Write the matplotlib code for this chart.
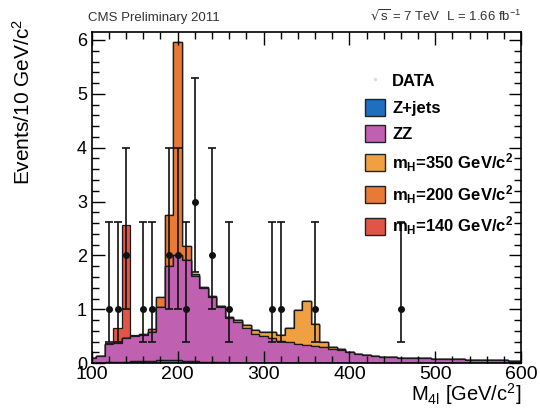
import numpy as np
from matplotlib import pyplot as plt
from matplotlib.patches import Patch
from matplotlib.lines import Line2D
from matplotlib.ticker import MultipleLocator

plt.rcParams['font.family'] = ['Liberation Sans', 'DejaVu Sans']
plt.rcParams['mathtext.default'] = 'regular'

# bin centres 100..600 GeV, 10 GeV wide
bin_centers = np.arange(100, 601, 10)

zjets = [0.00, 0.01, 0.02, 0.03, 0.03, 0.04, 0.04, 0.04, 0.05, 0.05,
         0.05, 0.04, 0.04, 0.03, 0.03, 0.02, 0.01, 0.01, 0.01, 0.01,
         0.00, 0.00, 0.00, 0.00, 0.00, 0.00, 0.00, 0.00, 0.00, 0.00,
         0.00, 0.00, 0.00, 0.00, 0.00, 0.00, 0.00, 0.00, 0.00, 0.00,
         0.00, 0.00, 0.00, 0.00, 0.00, 0.00, 0.00, 0.00, 0.00, 0.00, 0.00]
zz = [0.09, 0.13, 0.33, 0.35, 0.43, 0.46, 0.49, 0.54, 1.00, 1.75,
      1.96, 1.88, 1.58, 1.37, 1.19, 1.02, 0.82, 0.75, 0.65, 0.54,
      0.50, 0.46, 0.42, 0.39, 0.36, 0.34, 0.32, 0.30, 0.27, 0.24,
      0.20, 0.17, 0.15, 0.13, 0.12, 0.11, 0.10, 0.10, 0.09, 0.09,
      0.08, 0.08, 0.07, 0.07, 0.06, 0.06, 0.05, 0.05, 0.05, 0.04, 0.04]
h350 = [0.00, 0.00, 0.00, 0.00, 0.00, 0.00, 0.00, 0.00, 0.00, 0.00,
        0.00, 0.00, 0.00, 0.00, 0.01, 0.02, 0.03, 0.04, 0.05, 0.07,
        0.08, 0.11, 0.10, 0.27, 0.63, 0.82, 0.40, 0.10, 0.03, 0.02,
        0.01, 0.00, 0.00, 0.00, 0.00, 0.00, 0.00, 0.00, 0.00, 0.00,
        0.00, 0.00, 0.00, 0.00, 0.00, 0.00, 0.00, 0.00, 0.00, 0.00, 0.00]
h200 = [0.00, 0.00, 0.00, 0.00, 0.00, 0.00, 0.01, 0.06, 0.17, 0.96,
        3.95, 0.26, 0.04, 0.02, 0.01] + [0.00] * 36
h140 = [0.00, 0.00, 0.02, 0.28, 2.11, 0.02] + [0.00] * 45

data_x = [120, 130, 140, 160, 170, 190, 200, 210, 220, 240, 260, 310, 320, 360, 460]
data_y = [1, 1, 2, 1, 1, 2, 2, 1, 3, 2, 1, 1, 1, 1, 1]
data_lo = [0.6, 0.6, 1.0, 0.6, 0.6, 1.0, 1.0, 0.6, 1.3, 1.0, 0.6, 0.6, 0.6, 0.6, 0.6]
data_hi = [1.63, 1.63, 2.0, 1.63, 1.63, 2.0, 2.0, 1.63, 2.3, 2.0, 1.63, 1.63, 1.63, 1.63, 1.63]

colors = {
    'zjets': '#1f6fc0',
    'zz': '#c060b0',
    'h350': '#f0a040',
    'h200': '#e87a35',
    'h140': '#e05545',
}

edges = np.append(bin_centers - 5, bin_centers[-1] + 5)

fig = plt.figure(figsize=(5.4, 4.09), dpi=100)
ax = fig.add_axes([0.170, 0.112, 0.795, 0.810])

base0 = np.zeros(len(bin_centers))
layer1 = base0 + np.array(zjets)
layer2 = layer1 + np.array(zz)
layer3 = layer2 + np.array(h350)
layer4 = layer3 + np.array(h200)
layer5 = layer4 + np.array(h140)

stack = [
    (layer5, layer4, colors['h140']),
    (layer4, layer3, colors['h200']),
    (layer3, layer2, colors['h350']),
    (layer2, layer1, colors['zz']),
    (layer1, base0, colors['zjets']),
]
for top, bottom, color in stack:
    ax.stairs(top, edges, baseline=bottom, fill=True, facecolor=color,
              edgecolor='#1a1a1a', linewidth=0.9)

ax.errorbar(data_x, data_y, yerr=[data_lo, data_hi], fmt='o', color='#111111',
            markersize=4, elinewidth=1.2, capsize=3, capthick=1.2)

ax.set_xlim(100, 600)
ax.set_ylim(0, 6.15)
ax.xaxis.set_major_locator(MultipleLocator(100))
ax.xaxis.set_minor_locator(MultipleLocator(20))
ax.yaxis.set_major_locator(MultipleLocator(1))
ax.yaxis.set_minor_locator(MultipleLocator(0.2))
ax.tick_params(which='both', direction='in', top=True, right=True, width=1)
ax.tick_params(axis='x', labelsize=14, pad=2)
ax.tick_params(axis='y', labelsize=13)
ax.tick_params(which='major', length=9)
ax.tick_params(which='minor', length=5)
for spine in ax.spines.values():
    spine.set_linewidth(1.2)

ax.set_xlabel('M$_{4l}$ [GeV/c$^{2}$]', fontsize=14.5, loc='right', va='bottom')
ax.xaxis.set_label_coords(0.965, 0.004, transform=fig.transFigure)
ax.set_ylabel('Events/10 GeV/c$^{2}$', fontsize=15, loc='top')
ax.yaxis.set_label_coords(-0.135, 1.04)

fig.text(0.163, 0.948, 'CMS Preliminary 2011', fontsize=9.5, color='#333333')
fig.text(0.965, 0.948, r'$\sqrt{s}$ = 7 TeV  L = 1.66 fb$^{-1}$', fontsize=9.5,
         color='#333333', ha='right')

handles = [
    Line2D([], [], marker='o', color='#dddddd', linestyle='none', markersize=1.5),
    Patch(facecolor=colors['zjets'], edgecolor='#222222'),
    Patch(facecolor=colors['zz'], edgecolor='#222222'),
    Patch(facecolor=colors['h350'], edgecolor='#222222'),
    Patch(facecolor=colors['h200'], edgecolor='#222222'),
    Patch(facecolor=colors['h140'], edgecolor='#222222'),
]
labels = ['DATA', 'Z+jets', 'ZZ', 'm$_{H}$=350 GeV/c$^{2}$',
          'm$_{H}$=200 GeV/c$^{2}$', 'm$_{H}$=140 GeV/c$^{2}$']
ax.legend(handles, labels, loc='upper left', bbox_to_anchor=(0.655, 0.852),
          bbox_transform=fig.transFigure, frameon=False,
          prop={'weight': 'bold', 'size': 12}, handlelength=1.2, handleheight=1.2,
          labelspacing=0.55, handletextpad=0.4, borderpad=0.2)

plt.savefig('out.png', dpi=100)
